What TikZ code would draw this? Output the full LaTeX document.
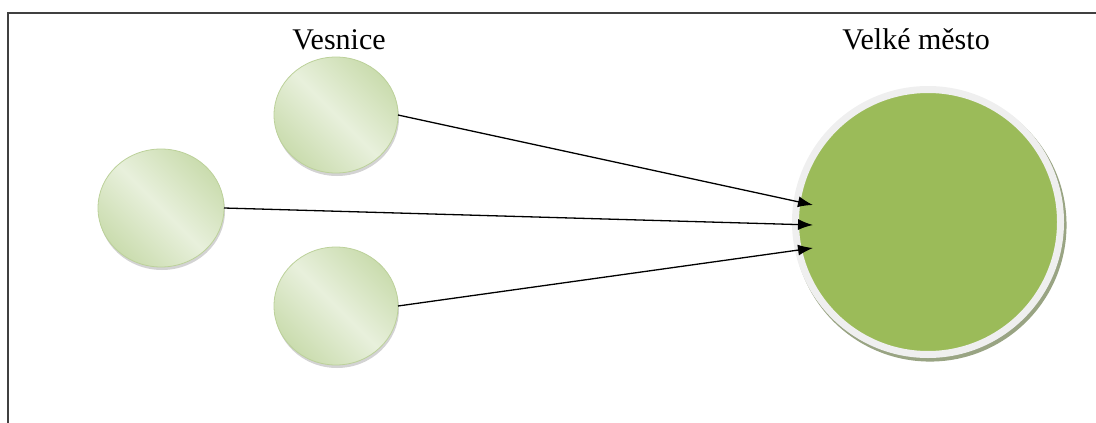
\documentclass[tikz,border=0pt]{standalone}
\usepackage{fontspec}
\setmainfont{Liberation Serif}
\usepackage{xcolor}
\usetikzlibrary{positioning,shapes.geometric,shadows,arrows.meta}
\definecolor{lightGreen}{HTML}{E8F0DC}
\definecolor{edgeGreen}{HTML}{CADCAE}
\definecolor{lineGreen}{HTML}{BCD19A}
\definecolor{cityGreen}{HTML}{9BBB59}
\definecolor{ringGray}{HTML}{EFEFEF}
\begin{document}
\begin{tikzpicture}[x=1pt,y=-1pt,
  vesnice/.style={ellipse,draw=lineGreen,line width=0.8pt,outer sep=0pt,
    top color=edgeGreen,bottom color=edgeGreen,middle color=lightGreen,shading angle=-45,
    drop shadow={opacity=0.35,shadow xshift=1pt,shadow yshift=-3pt}},
  mesto/.style={circle,fill=cityGreen,draw=ringGray,line width=7pt,outer sep=0pt,
    minimum size=265pt,
    drop shadow={fill=black!45!cityGreen,opacity=0.6,shadow scale=1.03,
      shadow xshift=2pt,shadow yshift=-3pt}},
  popis/.style={font=\fontsize{30}{36}\selectfont,inner sep=0pt,anchor=base}]
\useasboundingbox (0,0) rectangle (1096,423);
\draw[line width=2pt,black!75] (8,423) -- (8,13) -- (1096,13);
\node[vesnice,minimum width=124pt,minimum height=116pt] (v1) at (336,115) {};
\node[vesnice,minimum width=126pt,minimum height=118pt] (v2) at (161,208) {};
\node[vesnice,minimum width=124pt,minimum height=118pt] (v3) at (336,306) {};
\node[mesto] (mesto) at (928,222) {};
\node[popis] (lblV) at (339,49) {Vesnice};
\node[popis] (lblM) at (916,49) {Velké město};
\foreach \n/\y in {1/205,2/225,3/248}
{\coordinate (c\n) at (813,\y);
\draw[line width=1.3pt,-{Latex[length=15pt,width=11pt]}] (v\n.east) -- (c\n);
}
\end{tikzpicture}
\end{document}
